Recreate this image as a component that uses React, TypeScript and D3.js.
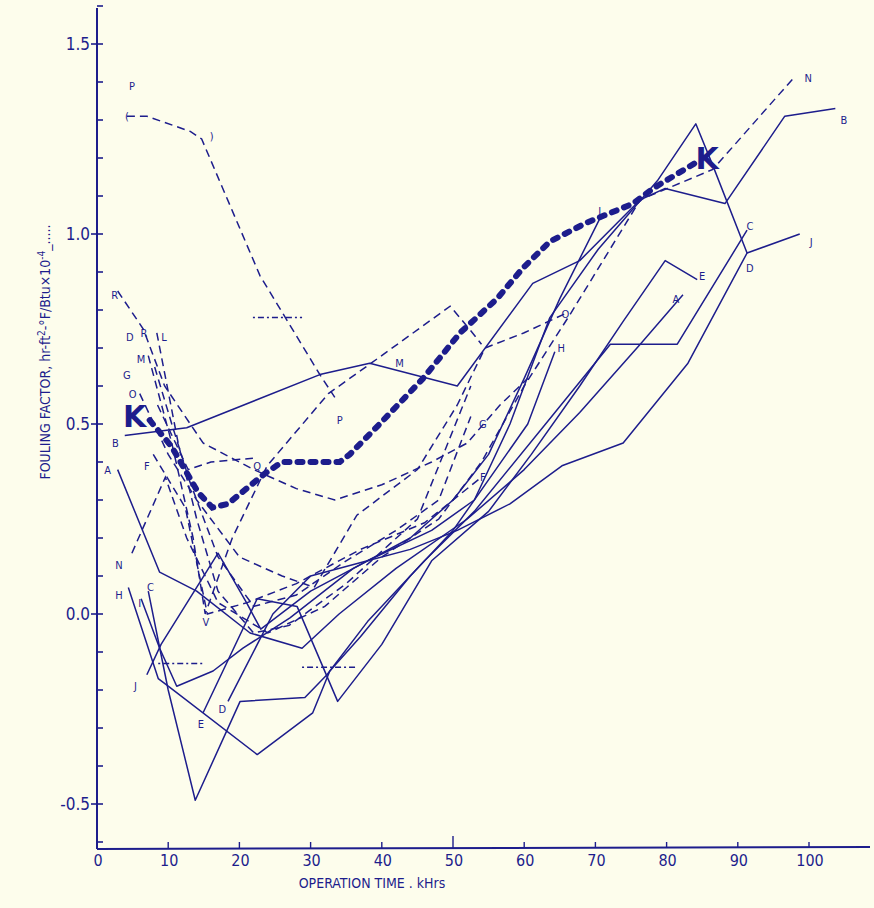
import React from 'react';
import * as d3 from 'd3';

const W = 874, H = 908;
const INK = '#1d1d8c';
const BG = '#fdfdec';

const xTickValues = [0, 10, 20, 30, 40, 50, 60, 70, 80, 90, 100];
const yLabelValues = [-0.5, 0, 0.5, 1.0, 1.5];
const yLabelTexts = ['-0.5', '0.0', '0.5', '1.0', '1.5'];

const serA = [[2.9,0.38],[8.8,0.11],[14.0,0.06],[21.5,-0.05],[28.8,-0.09],[34,0.0],[42,0.12],[52,0.25],[60,0.38],[67.8,0.53],[76.3,0.71],[82.3,0.84]];
const serB = [[3.9,0.47],[12.6,0.49],[31.3,0.63],[38.3,0.66],[50.6,0.60],[61.2,0.87],[67.8,0.93],[76.3,1.09],[79.8,1.12],[88.2,1.08],[96.6,1.31],[103.7,1.33]];
const serC = [[7.2,0.06],[10.0,-0.20],[13.8,-0.49],[20.1,-0.23],[29.2,-0.22],[32.3,-0.16],[38,-0.02],[46,0.14],[53,0.27],[63,0.5],[72.1,0.71],[81.5,0.71],[91.3,1.01]];
const serD = [[18.4,-0.23],[24.7,0.0],[30,0.1],[38,0.14],[44,0.17],[50.6,0.22],[58,0.29],[65.3,0.39],[73.9,0.45],[83,0.66],[91.3,0.95]];
const serE = [[14.9,-0.26],[22.5,0.04],[28.1,0.02],[33.8,-0.23],[40,-0.08],[47,0.14],[55,0.27],[61,0.42],[67.8,0.6],[73.9,0.77],[79.8,0.93],[84.3,0.88]];
const serF = [[7.9,0.42],[12.4,0.28],[15.5,0.0],[21.1,0.03],[28,0.08],[37,0.17],[46,0.24],[54,0.36]];
const serG = [[8.1,0.65],[10.5,0.5],[13,0.35],[17,0.15],[22,0.02],[28,0.05],[35,0.14],[42,0.22],[48,0.3],[52.5,0.52]];
const serH = [[4.4,0.07],[8.6,-0.17],[10.0,-0.19],[22.5,-0.37],[30.3,-0.26],[32.7,-0.15],[37,-0.06],[44,0.1],[50,0.22],[56,0.38],[60.5,0.5],[64.3,0.69]];
const serI = [[6.2,0.04],[8.8,-0.09],[11.2,-0.19],[16.3,-0.15],[20.5,-0.09],[27.1,-0.01],[36,0.12],[44,0.2],[50,0.3],[55,0.42],[60,0.62],[65,0.83],[70.6,1.04]];
const serJ = [[7.0,-0.16],[9.0,-0.08],[17.0,0.16],[21,0.03],[23,-0.04],[30,0.06],[38,0.14],[47,0.22],[53,0.3],[58,0.5],[63.6,0.78],[70.4,0.96],[78.7,1.14],[84.1,1.29],[86.5,1.18],[91.3,0.95],[98.7,1.0]];
const serK = [[7.4,0.51],[10.5,0.44],[14.2,0.32],[16.2,0.28],[18.4,0.29],[23.6,0.37],[26.0,0.40],[34.1,0.40],[35.5,0.42],[39.7,0.50],[45.8,0.62],[51.0,0.74],[56.2,0.83],[59.8,0.91],[63.6,0.98],[68.8,1.03],[75.3,1.08],[78.1,1.12],[84.3,1.19]];
const serL = [[8.4,0.74],[11.4,0.45],[14,0.25],[17,0.06],[22,-0.05],[27,-0.03],[35,0.08],[45,0.25],[52.5,0.6]];
const serM = [[7.2,0.68],[10.5,0.45],[13.5,0.2],[15.2,0.0],[19,0.2],[23.9,0.39],[32.5,0.58],[38.5,0.66],[49.6,0.81],[52.3,0.75],[54.0,0.71]];
const serN = [[4.9,0.16],[9.6,0.36],[12.6,0.2],[17,0.03],[24,-0.05],[32,0.02],[40,0.15],[48,0.25],[54,0.4],[60,0.6],[66.5,0.79],[76.3,1.09],[86.5,1.17],[97.8,1.41]];
const serO = [[6.0,0.58],[10,0.42],[14,0.3],[20,0.15],[26,0.1],[30.5,0.07],[36.5,0.26],[45,0.38],[50.6,0.55],[54.5,0.7],[60,0.74],[65.7,0.79]];
const serP = [[4.2,1.31],[7.0,1.31],[13.1,1.27],[14.7,1.25],[22.9,0.89],[31.3,0.63],[33.4,0.57]];
const serQ = [[8.5,0.55],[12.8,0.38],[16,0.4],[21.9,0.41]];
const serR = [[2.9,0.85],[6.5,0.75],[9.5,0.6],[14.9,0.45],[22,0.38],[28,0.33],[33.4,0.3],[40,0.34],[47,0.4],[52,0.45],[56.6,0.55],[60.5,0.62]];
const dotA = [[21.9,0.78],[28.8,0.78]];
const dotB = [[8.6,-0.13],[14.9,-0.13]];
const dotC = [[28.8,-0.14],[36.5,-0.14]];

const solidSeries = [serA, serB, serC, serD, serE, serH, serI, serJ];
const dashedSeries = [serF, serG, serL, serM, serN, serO, serP, serQ, serR];
const dottedSeries = [dotA, dotB, dotC];

// label text, anchor x (kHrs), anchor y (fouling)
const smallLabels: [string, number, number][] = [
  ['P', 4.9, 1.39], ['R', 2.5, 0.84], ['D', 4.6, 0.73], ['R', 6.6, 0.74], ['L', 9.4, 0.73],
  ['M', 6.2, 0.67], ['G', 4.2, 0.63], ['O', 5.0, 0.58], ['B', 2.6, 0.45], ['F', 7.0, 0.39],
  ['A', 1.5, 0.38], ['N', 3.1, 0.13], ['H', 3.1, 0.05], ['I', 6.0, 0.03], ['C', 7.5, 0.07],
  ['J', 5.4, -0.19], ['E', 14.6, -0.29], ['D', 17.6, -0.25], ['V', 15.3, -0.02], ['Q', 22.5, 0.39],
  ['P', 34.1, 0.51], ['M', 42.5, 0.66], ['G', 54.2, 0.5], ['F', 54.2, 0.36], ['O', 65.8, 0.79],
  ['H', 65.2, 0.7], ['I', 70.6, 1.06], ['A', 81.3, 0.83], ['E', 85.0, 0.89], ['N', 99.9, 1.41],
  ['B', 104.9, 1.3], ['C', 91.7, 1.02], ['D', 91.7, 0.91], ['J', 100.3, 0.98]
];
const bigLabels: [string, number, number][] = [['K', 5.3, 0.52], ['K', 85.7, 1.2]];

export default function App() {
  const x = d3.scaleLinear().domain([0, 100]).range([97, 809]);
  const y = d3.scaleLinear().domain([-0.5, 1.5]).range([804, 44]);
  const line = d3.line<number[]>().x(d => x(d[0])).y(d => y(d[1]));
  const minor = d3.range(-6, 17).map(i => i / 10);
  const font = '"Liberation Sans Narrow", "DejaVu Sans Condensed", "Liberation Sans", sans-serif';

  return (
    <svg width={W} height={H} style={{ position: 'absolute', left: 0, top: 0, background: BG }}>
      <rect x={0} y={0} width={W} height={H} fill={BG} />
      {/* axes */}
      <line x1={x(0)} x2={x(0)} y1={8} y2={849} stroke={INK} strokeWidth={2} />
      <line x1={x(0)} x2={870} y1={849} y2={847} stroke={INK} strokeWidth={2} />
      {minor.map((v, i) => (
        <line key={'ym' + i} x1={x(0)} x2={x(0) + 6} y1={y(v)} y2={y(v)} stroke={INK} strokeWidth={1.6} />
      ))}
      {yLabelValues.map((v, i) => (
        <g key={'yl' + i}>
          <line x1={x(0) - 6} x2={x(0)} y1={y(v)} y2={y(v)} stroke={INK} strokeWidth={1.6} />
          <text x={x(0) - 7} y={y(v) + 6} textAnchor="end" fontSize={17} fill={INK} fontFamily={font}>{yLabelTexts[i]}</text>
        </g>
      ))}
      {xTickValues.map((v, i) => (
        <g key={'xt' + i}>
          <line x1={x(v)} x2={x(v)} y1={848} y2={v === 50 ? 836 : 842} stroke={INK} strokeWidth={1.4} />
          <text x={x(v) + 1} y={866} textAnchor="middle" fontSize={16} fill={INK} fontFamily={font}>{v}</text>
        </g>
      ))}
      <text x={372} y={888} textAnchor="middle" fontSize={14} fill={INK} fontFamily={font}>OPERATION TIME . kHrs</text>
      <text transform="translate(50,352) rotate(-90)" textAnchor="middle" fontSize={14} fill={INK} fontFamily={font}>
        FOULING FACTOR, hr-ft<tspan dy={-5} fontSize={10}>2</tspan><tspan dy={5}>-°F/Btu×10</tspan><tspan dy={-5} fontSize={10}>-4</tspan><tspan dy={5}>_.....</tspan>
      </text>

      {/* series */}
      {solidSeries.map((s, i) => (
        <path key={'s' + i} d={line(s) || ''} fill="none" stroke={INK} strokeWidth={1.5} strokeLinejoin="round" />
      ))}
      {dashedSeries.map((s, i) => (
        <path key={'d' + i} d={line(s) || ''} fill="none" stroke={INK} strokeWidth={1.5} strokeDasharray="8,5" />
      ))}
      {dottedSeries.map((s, i) => (
        <path key={'o' + i} d={line(s) || ''} fill="none" stroke={INK} strokeWidth={1.5} strokeDasharray="2,3,6,3" />
      ))}
      <path d={line(serK) || ''} fill="none" stroke={INK} strokeWidth={6} strokeDasharray="5,8" strokeLinecap="round" />

      {/* brackets on P */}
      <text x={x(serP[0][0])} y={y(serP[0][1]) + 4} fontSize={11} fill={INK} textAnchor="middle" fontFamily={font}>(</text>
      <text x={x(serP[3][0]) + 10} y={y(serP[3][1]) + 1} fontSize={11} fill={INK} textAnchor="middle" fontFamily={font}>)</text>

      {smallLabels.map(([t, lx, ly], i) => (
        <text key={'lb' + i} x={x(lx)} y={y(ly) + 4} fontSize={11} fill={INK} textAnchor="middle" fontFamily={font}>{t}</text>
      ))}
      {bigLabels.map(([t, lx, ly], i) => (
        <text key={'bk' + i} x={x(lx)} y={y(ly) + 11} fontSize={30} fontWeight="bold" fill={INK} textAnchor="middle" fontFamily='"DejaVu Sans", sans-serif'>{t}</text>
      ))}
    </svg>
  );
}
